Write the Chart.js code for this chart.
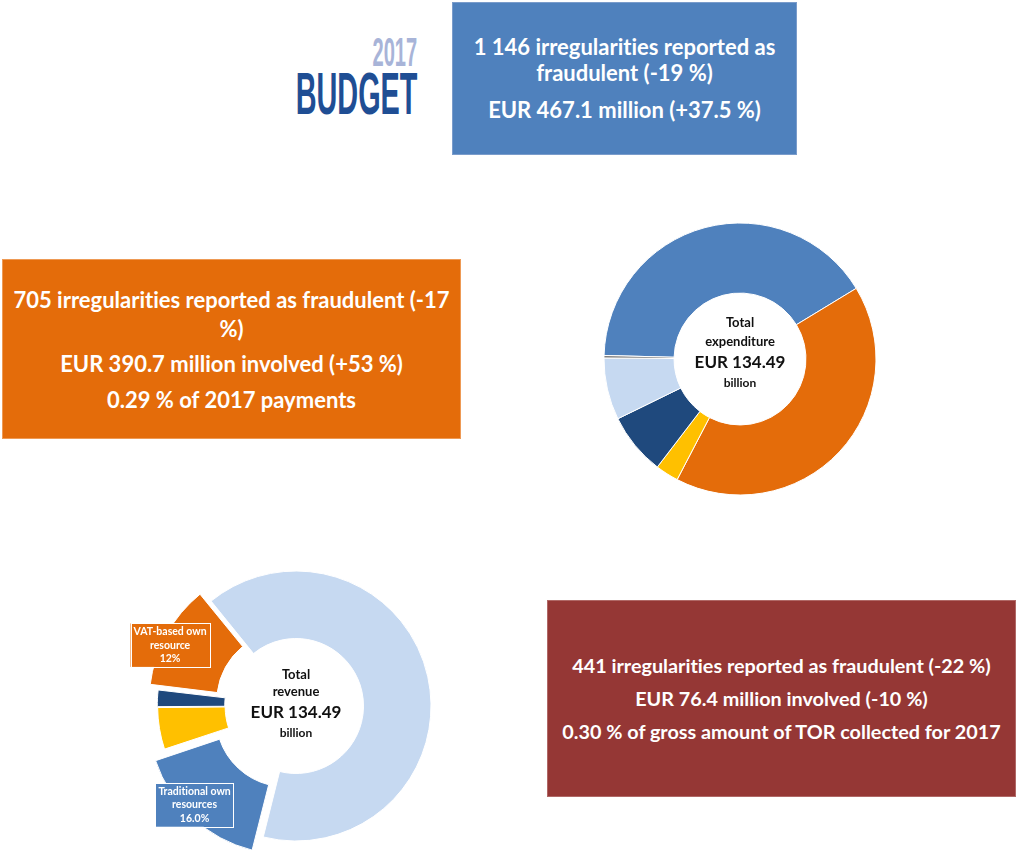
<!DOCTYPE html>
<html>
<head>
<meta charset="utf-8">
<title>Budget 2017 - irregularities reported as fraudulent</title>
<script src="https://cdn.jsdelivr.net/npm/chart.js@4.4.1/dist/chart.umd.min.js"></script>
<style>
  body { margin: 0; background: #ffffff; }
  #page { position: relative; width: 1016px; height: 850px; overflow: hidden; font-family: Lato, "Open Sans", sans-serif; font-variant-ligatures: none; }
  .box { position: absolute; box-sizing: border-box; color: #ffffff; font-weight: bold; text-align: center;
         display: flex; flex-direction: column; justify-content: center; white-space: nowrap; }
  #boxTop { left: 452px; top: 2px; width: 345px; height: 153px; background: #4F81BD; border: 1px solid #7A9CCB; font-size: 22px; }
  #boxTop p { margin: 0; line-height: 26px; }
  #boxTop p + p { margin-top: 11px; }
  #boxOrange { left: 2px; top: 259px; width: 459px; height: 180px; background: #E46C0A; border: 1px solid #EE9A55; font-size: 22px; }
  #boxOrange p { margin: 0; line-height: 29px; }
  #boxOrange p + p { margin-top: 6.5px; }
  #boxRed { left: 547px; top: 600px; width: 469px; height: 197px; background: #953735; border: 1px solid #B06866; font-size: 19.8px; }
  #boxRed p { margin: 0; line-height: 33px; }
  .logo { position: absolute; left: 0; width: 417px; text-align: right; font-family: "Liberation Sans", Arial, sans-serif; font-weight: bold; line-height: 1; }
  .logo span { display: inline-block; transform-origin: right center; }
  #logoYear { top: 32px; font-size: 41px; color: #A8B4D8; }
  #logoYear span { transform: scaleX(0.49); }
  #logoWord { top: 64px; font-size: 60px; color: #1F4E94; }
  #logoWord span { transform: scaleX(0.48); }
  #expWrap { position: absolute; left: 590px; top: 209px; width: 300px; height: 300px; }
  #revWrap { position: absolute; left: 116px; top: 556px; width: 360px; height: 300px; }
</style>
</head>
<body>
<div id="page">
  <div class="logo" id="logoYear"><span>2017</span></div>
  <div class="logo" id="logoWord"><span>BUDGET</span></div>

  <div class="box" id="boxTop">
    <p>1 146 irregularities reported as<br>fraudulent (-19 %)</p>
    <p>EUR 467.1 million (+37.5 %)</p>
  </div>

  <div class="box" id="boxOrange">
    <p>705 irregularities reported as fraudulent (-17<br>%)</p>
    <p>EUR 390.7 million involved (+53 %)</p>
    <p>0.29 % of 2017 payments</p>
  </div>

  <div class="box" id="boxRed">
    <p>441 irregularities reported as fraudulent (-22 %)</p>
    <p>EUR 76.4 million involved (-10 %)</p>
    <p>0.30 % of gross amount of TOR collected for 2017</p>
  </div>

  <div id="expWrap"><canvas id="expChart" width="300" height="300"></canvas></div>
  <div id="revWrap"><canvas id="revChart" width="360" height="300"></canvas></div>
</div>

<script>
// dépenses 2017 (EUR milliards)
const expLabels = ['Smart and inclusive growth', 'Sustainable growth: natural resources', 'Security and citizenship', 'Global Europe', 'Administration', 'Special instruments'];
const expValues = [55.0, 55.6, 3.7, 9.9, 9.9, 0.4];
const expColors = ['#4F81BD', '#E46C0A', '#FFC000', '#1F497D', '#C6D9F1', '#7F7F7F'];
const expCenter = ['Total', 'expenditure', 'EUR 134.49', 'billion'];

// recettes 2017 (EUR milliards)
const revLabels = ['GNI-based own resource', 'Traditional own resources', 'Other revenue', 'Surplus', 'VAT-based own resource'];
const revValues = [87.0, 21.5, 6.7, 2.7, 16.5];
const revColors = ['#C6D9F1', '#4F81BD', '#FFC000', '#1F497D', '#E46C0A'];
const revCenter = ['Total', 'revenue', 'EUR 134.49', 'billion'];
const revSliceText = [null, ['Traditional own', 'resources', '16.0%'], null, null, ['VAT-based own', 'resource', '12%']];

const FONT = 'Lato, "Open Sans", sans-serif';

// texte au centre du donut
const centerText = {
    id: 'centerText',
    afterDraw(chart, args, opts) {
        const arc = chart.getDatasetMeta(0).data[0];
        const ctx = chart.ctx;
        ctx.save();
        ctx.fillStyle = '#111111';
        ctx.textAlign = 'center';
        ctx.textBaseline = 'middle';
        opts.lines.forEach((line, i) => {
            ctx.font = 'bold ' + opts.sizes[i] + 'px ' + FONT;
            ctx.fillText(line, arc.x, arc.y + opts.dy[i]);
        });
        ctx.restore();
    }
};

// étiquettes encadrées sur certaines parts
const sliceText = {
    id: 'sliceText',
    afterDatasetsDraw(chart, args, opts) {
        const meta = chart.getDatasetMeta(0);
        const colors = chart.data.datasets[0].backgroundColor;
        const ctx = chart.ctx;
        ctx.save();
        ctx.font = 'bold 10.5px ' + FONT;
        ctx.textAlign = 'center';
        ctx.textBaseline = 'middle';
        meta.data.forEach((arc, i) => {
            const lines = opts.text[i];
            if (!lines) return;
            const p = arc.getProps(['x', 'y', 'startAngle', 'endAngle', 'outerRadius'], true);
            const mid = (p.startAngle + p.endAngle) / 2;
            const shift = opts.shift[i] || [0, 0];
            const cx = p.x + Math.cos(mid) * p.outerRadius * opts.radiusFactor + shift[0];
            const cy = p.y + Math.sin(mid) * p.outerRadius * opts.radiusFactor + shift[1];
            const w = Math.max(...lines.map(l => ctx.measureText(l).width)) + 6;
            const h = lines.length * opts.lineHeight + 3;
            ctx.fillStyle = colors[i];
            ctx.strokeStyle = '#ffffff';
            ctx.lineWidth = 1;
            ctx.fillRect(cx - w / 2, cy - h / 2, w, h);
            ctx.strokeRect(Math.round(cx - w / 2) + 0.5, Math.round(cy - h / 2) + 0.5, Math.round(w), Math.round(h));
            ctx.fillStyle = '#ffffff';
            lines.forEach((l, k) => {
                ctx.fillText(l, cx, cy - h / 2 + 1.5 + opts.lineHeight * (k + 0.5));
            });
        });
        ctx.restore();
    }
};

const ctxExp = document.getElementById('expChart').getContext('2d');
new Chart(ctxExp, {
    type: 'doughnut',
    data: {
        labels: expLabels,
        datasets: [{
            data: expValues,
            backgroundColor: expColors,
            borderColor: '#ffffff',
            borderWidth: 1
        }]
    },
    options: {
        responsive: false,
        animation: false,
        radius: 136,
        cutout: '48.5%',
        rotation: 271.5,
        layout: { padding: 0 },
        plugins: {
            legend: { display: false },
            tooltip: { enabled: false },
            centerText: { lines: expCenter, sizes: [13, 13, 17, 12], dy: [-36, -17, 4, 24] }
        }
    },
    plugins: [centerText]
});

const ctxRev = document.getElementById('revChart').getContext('2d');
new Chart(ctxRev, {
    type: 'doughnut',
    data: {
        labels: revLabels,
        datasets: [{
            data: revValues,
            backgroundColor: revColors,
            borderColor: '#ffffff',
            borderWidth: 1,
            // Chart.js déplace la part de offset/4 px
            offset: [0, 60, 8, 8, 40]
        }]
    },
    options: {
        responsive: false,
        animation: false,
        radius: 135,
        cutout: '50%',
        rotation: 321,
        layout: { padding: 0 },
        plugins: {
            legend: { display: false },
            tooltip: { enabled: false },
            centerText: { lines: revCenter, sizes: [13, 13, 17, 12], dy: [-31, -14, 7, 27] },
            sliceText: { text: revSliceText, radiusFactor: 1.04, lineHeight: 13.5, shift: [null, [-6, -4], null, null, [-3, 7]] }
        }
    },
    plugins: [centerText, sliceText]
});
</script>
</body>
</html>
